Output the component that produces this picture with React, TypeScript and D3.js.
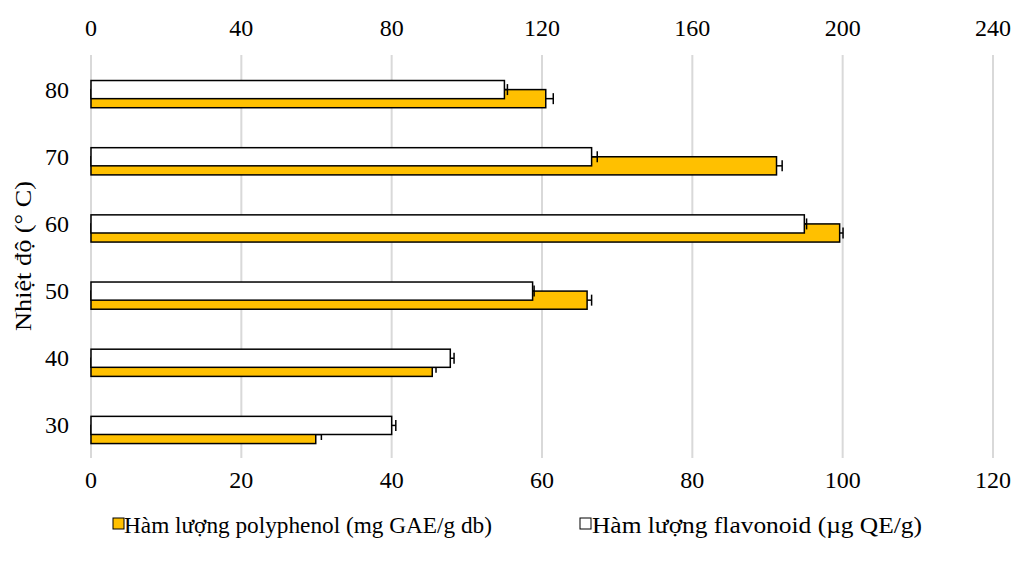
import React from 'react';
import * as d3 from 'd3';

// categories (temperature, °C), top to bottom
const temps = ['80', '70', '60', '50', '40', '30'];

// polyphenol, primary (bottom) axis
const polyphenol = [60.5, 91.2, 99.6, 66.0, 45.4, 29.9];
const polyphenolErr = [1.0, 0.75, 0.45, 0.6, 0.5, 0.75];

// flavonoid, secondary (top) axis
const flavonoid = [110.0, 133.2, 189.8, 117.5, 95.6, 80.0];
const flavonoidErr = [0.8, 1.5, 0.6, 0.4, 1.0, 1.1];

const bottomTicks = [0, 20, 40, 60, 80, 100, 120];
const topTicks = [0, 40, 80, 120, 160, 200, 240];

const legendLabels = [
  'Hàm lượng polyphenol (mg GAE/g db)',
  'Hàm lượng flavonoid (µg QE/g)',
];

const font = "'Liberation Serif', 'Times New Roman', 'DejaVu Serif', serif";

const App = () => {
  const width = 1015;
  const height = 567;
  const left = 91;
  const right = 993;
  const top = 55;
  const bottom = 458;

  const xBottom = d3.scaleLinear().domain([0, 120]).range([left, right]);
  const xTop = d3.scaleLinear().domain([0, 240]).range([left, right]);
  const y = d3.scaleBand().domain(temps).range([top, bottom]).padding(0);
  const bw = y.bandwidth();
  const barH = bw * 0.27;
  const center = (t: string) => (y(t) as number) + bw / 2;

  // white (secondary) bar sits a little above the orange one, overlapping it
  const whiteOff = -bw * 0.12;
  const orangeOff = bw * 0.015;
  const cap = 11;

  const txt = { fontFamily: font, fontSize: 24, fill: '#000' };

  const errorBar = (x0: number, x1: number, cy: number, key: string) => (
    <g key={key} stroke="#000" strokeWidth={1.5}>
      <line x1={x0} x2={x1} y1={cy} y2={cy} />
      <line x1={x1} x2={x1} y1={cy - cap / 2} y2={cy + cap / 2} />
    </g>
  );

  return (
    <svg width={width} height={height} style={{ position: 'absolute', left: 0, top: 0, fontFamily: font }}>
      <rect width={width} height={height} fill="#fff" />
      {/* gridlines */}
      {bottomTicks.map((t) => (
        <line key={'g' + t} x1={xBottom(t)} x2={xBottom(t)} y1={top} y2={bottom} stroke="#d9d9d9" strokeWidth={2} />
      ))}
      {/* top axis labels */}
      {topTicks.map((t) => (
        <text key={'t' + t} x={xTop(t)} y={36} textAnchor="middle" style={txt}>
          {t}
        </text>
      ))}
      {/* bottom axis labels */}
      {bottomTicks.map((t) => (
        <text key={'b' + t} x={xBottom(t)} y={488} textAnchor="middle" style={txt}>
          {t}
        </text>
      ))}
      {/* category labels */}
      {temps.map((t) => (
        <text key={'c' + t} x={69} y={center(t) + 9} textAnchor="end" style={txt}>
          {t}
        </text>
      ))}
      <text
        transform={`translate(31, 256) rotate(-90)`}
        textAnchor="middle"
        textLength={150}
        lengthAdjust="spacingAndGlyphs"
        style={txt}
      >
        Nhiệt độ (° C)
      </text>

      {/* polyphenol bars (primary) */}
      {temps.map((t, i) => {
        const cy = center(t) + orangeOff;
        return (
          <g key={'p' + t}>
            <rect
              x={xBottom(0)}
              y={cy}
              width={xBottom(polyphenol[i]) - xBottom(0)}
              height={barH}
              fill="#FFC000"
              stroke="#000"
              strokeWidth={1.5}
            />
            {errorBar(xBottom(polyphenol[i]), xBottom(polyphenol[i] + polyphenolErr[i]), cy + barH / 2, 'pe' + t)}
          </g>
        );
      })}

      {/* flavonoid bars (secondary, drawn on top) */}
      {temps.map((t, i) => {
        const cy = center(t) + whiteOff;
        return (
          <g key={'f' + t}>
            <rect
              x={xTop(0)}
              y={cy}
              width={xTop(flavonoid[i]) - xTop(0)}
              height={barH}
              fill="#fff"
              stroke="#000"
              strokeWidth={1.5}
            />
            {errorBar(xTop(flavonoid[i]), xTop(flavonoid[i] + flavonoidErr[i]), cy + barH / 2, 'fe' + t)}
          </g>
        );
      })}

      {/* legend */}
      <rect x={113} y={518} width={11} height={11} fill="#FFC000" stroke="#000" strokeWidth={1} />
      <text x={124} y={533} textLength={368} lengthAdjust="spacingAndGlyphs" style={txt}>
        {legendLabels[0]}
      </text>
      <rect x={580} y={518} width={11} height={11} fill="#fff" stroke="#000" strokeWidth={1} />
      <text x={592} y={533} textLength={330} lengthAdjust="spacingAndGlyphs" style={txt}>
        {legendLabels[1]}
      </text>
    </svg>
  );
};

export default App;
